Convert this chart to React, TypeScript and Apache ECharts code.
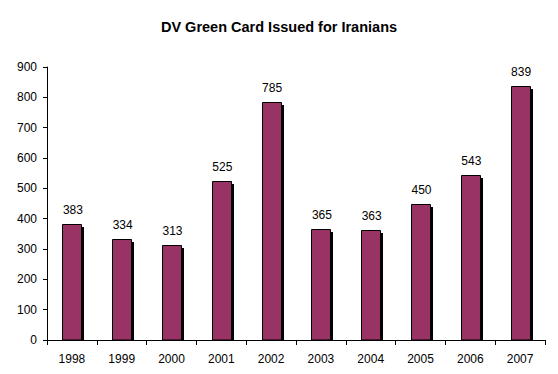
import React, { useEffect, useRef } from "react";
import * as echarts from "echarts";

const years = ["1998", "1999", "2000", "2001", "2002", "2003", "2004", "2005", "2006", "2007"];
const issued = [383, 334, 313, 525, 785, 365, 363, 450, 543, 839];
const yTicks = { min: 0, max: 900, interval: 100 };

export default function App() {
  const ref = useRef<HTMLDivElement>(null);
  useEffect(() => {
    const chart = echarts.init(ref.current!, null, { renderer: "svg" });
    const font = "'Liberation Sans', Arial, sans-serif";
    chart.setOption({
      animation: false,
      backgroundColor: "#ffffff",
      title: {
        text: "DV Green Card Issued for Iranians",
        left: "center",
        top: 14,
        textStyle: { fontFamily: font, fontSize: 14.5, fontWeight: "bold", color: "#000" },
      },
      grid: { left: 47, right: 13, top: 67, bottom: 34 },
      xAxis: {
        type: "category",
        data: years,
        axisLine: { lineStyle: { color: "#000", width: 1 } },
        axisTick: { show: true, alignWithLabel: false, length: 5, lineStyle: { color: "#000" } },
        axisLabel: { fontFamily: font, fontSize: 12, color: "#000", margin: 13 },
      },
      yAxis: {
        type: "value",
        min: yTicks.min,
        max: yTicks.max,
        interval: yTicks.interval,
        axisLine: { show: true, lineStyle: { color: "#000", width: 1 } },
        axisTick: { show: true, length: 4, lineStyle: { color: "#000" } },
        splitLine: { show: false },
        axisLabel: { fontFamily: font, fontSize: 12, color: "#000", margin: 10 },
      },
      series: [
        {
          type: "custom",
          data: issued.map((v, i) => [i, v]),
          encode: { x: 0, y: 1 },
          renderItem: (params: any, api: any) => {
            const idx = api.value(0);
            const val = api.value(1);
            const top = api.coord([idx, val]);
            const base = api.coord([idx, 0]);
            const band = api.size([1, 0])[0];
            const w = Math.round(band * 0.38);
            const x = Math.round(top[0] - w / 2);
            const y = Math.round(top[1]);
            const h = Math.round(base[1]) - y;
            return {
              type: "group",
              children: [
                {
                  type: "rect",
                  shape: { x: x + 3, y: y + 3, width: w, height: h - 3 },
                  style: { fill: "#000" },
                },
                {
                  type: "rect",
                  shape: { x: x + 0.5, y: y + 0.5, width: w, height: h - 0.5 },
                  style: { fill: "#993366", stroke: "#000", lineWidth: 1 },
                },
                {
                  type: "text",
                  x: top[0] + 1,
                  y: y - 14,
                  style: {
                    text: String(val),
                    fontFamily: font,
                    fontSize: 12,
                    fill: "#000",
                    align: "center",
                    verticalAlign: "middle",
                  },
                },
              ],
            };
          },
        },
      ],
    });
    return () => chart.dispose();
  }, []);
  return <div ref={ref} style={{ width: 558, height: 374, position: "absolute", left: 0, top: 0 }} />;
}
